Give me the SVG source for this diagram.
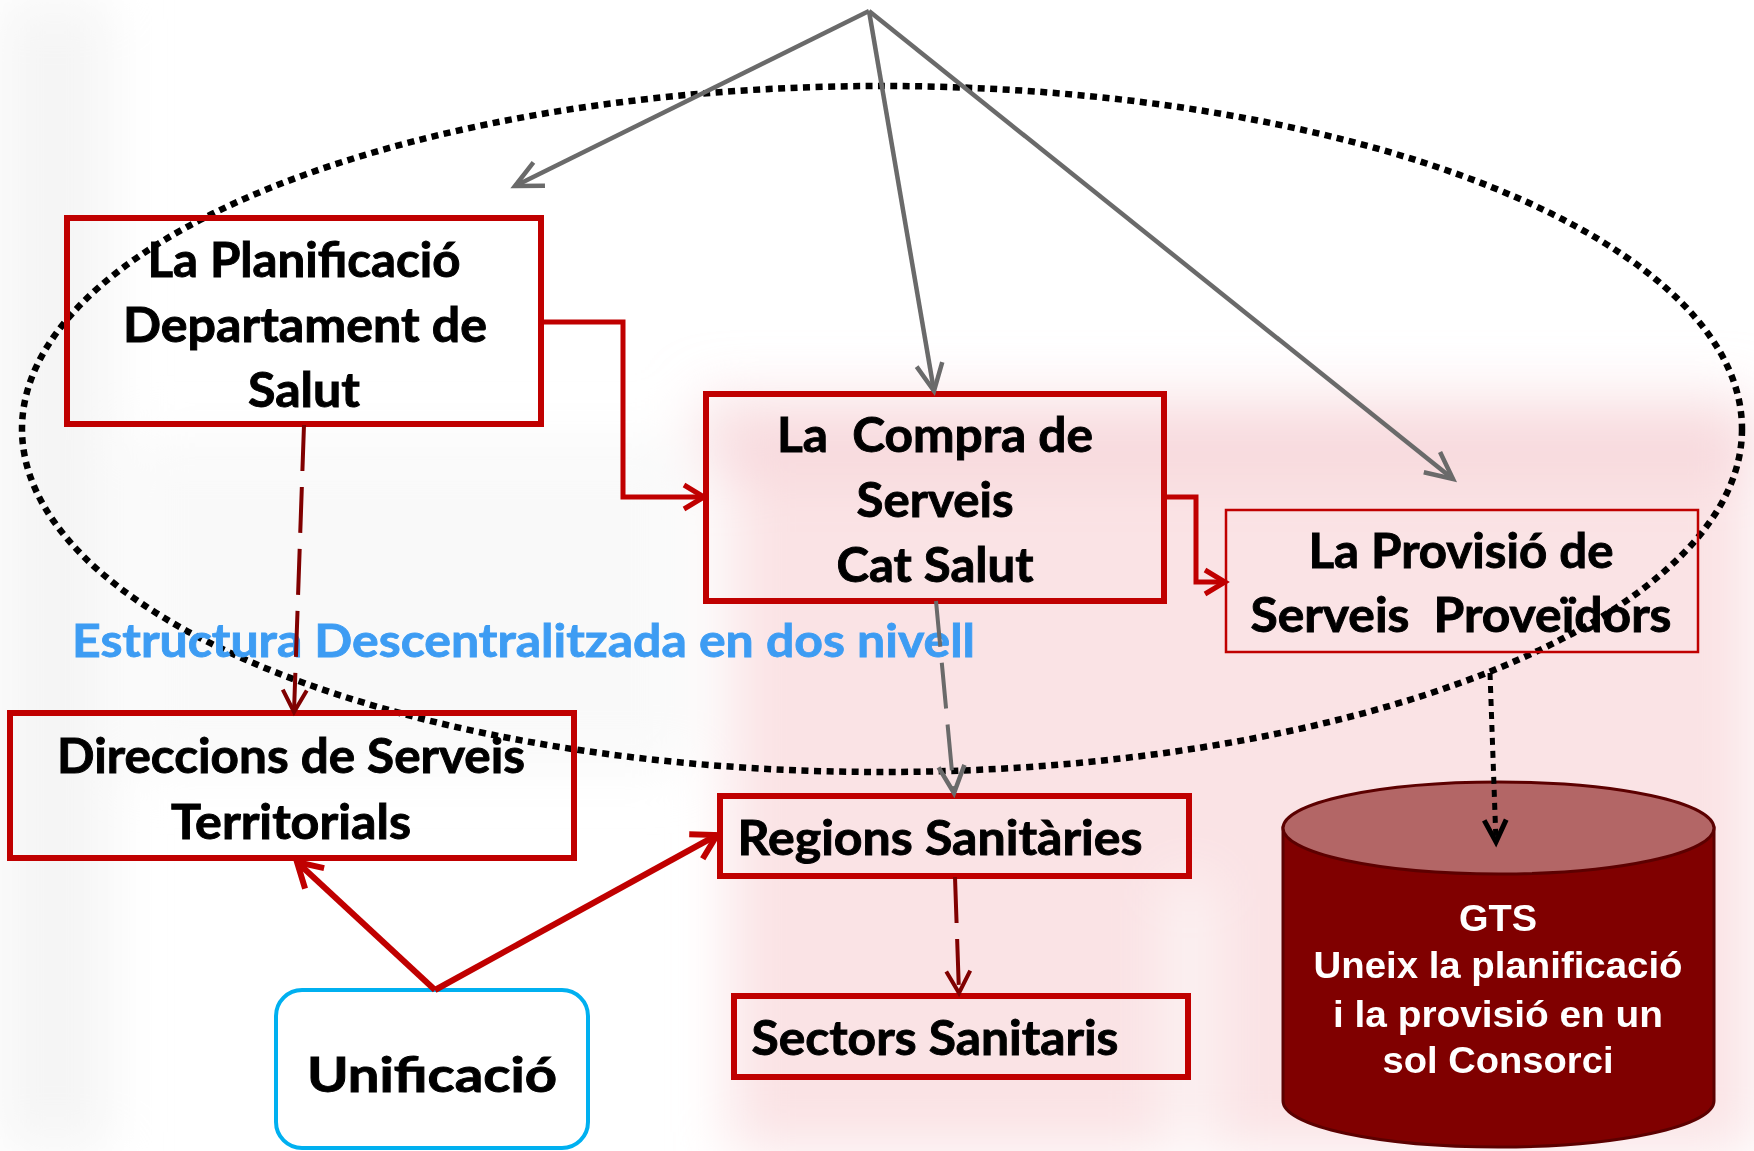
<svg xmlns="http://www.w3.org/2000/svg" width="1754" height="1151" viewBox="0 0 1754 1151">
  <style>
    .box { fill: none; stroke: #c00000; stroke-width: 6; }
    .boxthin { fill: none; stroke: #c00000; stroke-width: 2.5; }
    .lbl { font-family: Lato, "Open Sans", "Liberation Sans", sans-serif; font-weight: bold; font-size: 47px; fill: #000; stroke: #000; stroke-width: 0.9; text-anchor: middle; white-space: pre; }
    .blue { font-family: Lato, "Open Sans", "Liberation Sans", sans-serif; font-weight: bold; font-size: 45px; fill: #3d9cf3; stroke: #3d9cf3; stroke-width: 0.8; }
    .gts { font-family: "Liberation Sans Narrow", "Liberation Sans", Arial, sans-serif; font-weight: bold; font-size: 37px; fill: #fff; text-anchor: middle; }
    .gray { fill: none; stroke: #6a6a6a; stroke-width: 4.5; }
    .red { fill: none; stroke: #c00000; stroke-width: 5; }
    .redthick { fill: none; stroke: #c00000; stroke-width: 6; }
    .dred { fill: none; stroke: #800000; stroke-width: 4; stroke-dasharray: 46 16; }
    .dgray { fill: none; stroke: #6a6a6a; stroke-width: 4; stroke-dasharray: 46 16; }
    .dot { fill: none; stroke: #000; stroke-width: 6.5; stroke-dasharray: 7 5.5; }
  </style>
  <defs>
    <filter id="blur" x="-20%" y="-20%" width="140%" height="140%">
      <feGaussianBlur stdDeviation="28"/>
    </filter>
    <marker id="ahGray" markerUnits="userSpaceOnUse" viewBox="0 0 36 36" refX="33" refY="18" markerWidth="36" markerHeight="36" orient="auto" overflow="visible">
      <path d="M6,5 L33,18 L6,31" fill="none" stroke="#6a6a6a" stroke-width="4.5"/>
    </marker>
    <marker id="ahRed" markerUnits="userSpaceOnUse" viewBox="0 0 30 30" refX="26" refY="15" markerWidth="30" markerHeight="30" orient="auto" overflow="visible">
      <path d="M6,3 L26,15 L6,27" fill="none" stroke="#c00000" stroke-width="5"/>
    </marker>
    <marker id="ahRedBig" markerUnits="userSpaceOnUse" viewBox="0 0 36 36" refX="32" refY="18" markerWidth="36" markerHeight="36" orient="auto" overflow="visible">
      <path d="M8,4 L32,18 L8,32" fill="none" stroke="#c00000" stroke-width="6"/>
    </marker>
    <marker id="ahDred" markerUnits="userSpaceOnUse" viewBox="0 0 30 30" refX="26" refY="15" markerWidth="30" markerHeight="30" orient="auto" overflow="visible">
      <path d="M4,3 L26,15 L4,27" fill="none" stroke="#800000" stroke-width="4"/>
    </marker>
    <marker id="ahBlack" markerUnits="userSpaceOnUse" viewBox="0 0 30 30" refX="26" refY="15" markerWidth="30" markerHeight="30" orient="auto" overflow="visible">
      <path d="M4,4 L26,15 L4,26" fill="none" stroke="#000" stroke-width="5"/>
    </marker>
  </defs>

  <rect x="0" y="0" width="1754" height="1151" fill="#ffffff"/>
  <g id="background" filter="url(#blur)">
    <rect x="730" y="430" width="1024" height="721" fill="#f8d9dc" opacity="0.75"/>
    <rect x="700" y="395" width="1054" height="80" fill="#f5cfd3" opacity="0.6"/>
    <rect x="1170" y="880" width="40" height="271" fill="#ffffff" opacity="0.7"/>
    <rect x="0" y="0" width="110" height="1151" fill="#ececec" opacity="0.55"/>
    <rect x="130" y="440" width="560" height="330" fill="#f5f5f5" opacity="0.6"/>
  </g>

  <ellipse id="boundary" cx="882" cy="429" rx="860" ry="343" class="dot"/>

  <text id="estructura" x="72" y="657" class="blue" textLength="903" lengthAdjust="spacingAndGlyphs">Estructura Descentralitzada en dos nivell</text>

  <g id="planificacio">
    <rect x="67" y="218" width="474" height="206" class="box"/>
    <text class="lbl" x="304" y="277" textLength="313" lengthAdjust="spacingAndGlyphs">La Planificació</text>
    <text class="lbl" x="305" y="342" textLength="364" lengthAdjust="spacingAndGlyphs">Departament de</text>
    <text class="lbl" x="304" y="407" textLength="112" lengthAdjust="spacingAndGlyphs">Salut</text>
  </g>

  <g id="compra">
    <rect x="706" y="394" width="458" height="207" class="box"/>
    <text class="lbl" x="935" y="452" textLength="316" lengthAdjust="spacingAndGlyphs">La  Compra de</text>
    <text class="lbl" x="935" y="517" textLength="157" lengthAdjust="spacingAndGlyphs">Serveis</text>
    <text class="lbl" x="935" y="582" textLength="197" lengthAdjust="spacingAndGlyphs">Cat Salut</text>
  </g>

  <g id="provisio">
    <rect x="1226" y="510" width="472" height="142" class="boxthin"/>
    <text class="lbl" x="1461" y="568" textLength="305" lengthAdjust="spacingAndGlyphs">La Provisió de</text>
    <text class="lbl" x="1461" y="632" textLength="421" lengthAdjust="spacingAndGlyphs">Serveis  Proveïdors</text>
  </g>

  <g id="direccions">
    <rect x="10" y="713" width="564" height="145" class="box"/>
    <text class="lbl" x="291" y="773" textLength="468" lengthAdjust="spacingAndGlyphs">Direccions de Serveis</text>
    <text class="lbl" x="291" y="839" textLength="240" lengthAdjust="spacingAndGlyphs">Territorials</text>
  </g>

  <g id="regions">
    <rect x="720" y="796" width="469" height="80" class="box"/>
    <text class="lbl" x="940" y="855" textLength="405" lengthAdjust="spacingAndGlyphs">Regions Sanitàries</text>
  </g>

  <g id="sectors">
    <rect x="734" y="996" width="454" height="81" class="box"/>
    <text class="lbl" x="935" y="1055" textLength="367" lengthAdjust="spacingAndGlyphs">Sectors Sanitaris</text>
  </g>

  <g id="unificacio">
    <rect x="276" y="990" width="312" height="158" rx="26" ry="26" fill="#ffffff" stroke="#00b0f0" stroke-width="4"/>
    <text class="lbl" x="432" y="1092" font-size="54" textLength="250" lengthAdjust="spacingAndGlyphs">Unificació</text>
  </g>

  <g id="gts">
    <path d="M1283,828 L1283,1101 A215.5,46 0 0 0 1714,1101 L1714,828 Z" fill="#800000" stroke="#5c0000" stroke-width="3"/>
    <ellipse cx="1498.5" cy="828" rx="215.5" ry="46" fill="#b36666" stroke="#5c0000" stroke-width="3"/>
    <text class="gts" x="1498" y="931" textLength="78" lengthAdjust="spacingAndGlyphs">GTS</text>
    <text class="gts" x="1498" y="978" textLength="369" lengthAdjust="spacingAndGlyphs">Uneix la planificació</text>
    <text class="gts" x="1498" y="1027" textLength="330" lengthAdjust="spacingAndGlyphs">i la provisió en un</text>
    <text class="gts" x="1498" y="1073" textLength="231" lengthAdjust="spacingAndGlyphs">sol Consorci</text>
  </g>

  <g id="connectors">
    <line x1="869" y1="11" x2="515" y2="186" class="gray" marker-end="url(#ahGray)"/>
    <line x1="869" y1="11" x2="934" y2="391" class="gray" marker-end="url(#ahGray)"/>
    <line x1="869" y1="11" x2="1453" y2="479" class="gray" marker-end="url(#ahGray)"/>
    <polyline points="541,322 623,322 623,497 704,497" class="red" marker-end="url(#ahRed)"/>
    <polyline points="1164,497 1196,497 1196,582 1225,582" class="red" marker-end="url(#ahRed)"/>
    <line x1="304" y1="425" x2="294" y2="712" class="dred" marker-end="url(#ahDred)"/>
    <line x1="936" y1="601" x2="954" y2="793" class="dgray" marker-end="url(#ahGray)"/>
    <line x1="955" y1="877" x2="959" y2="993" class="dred" marker-end="url(#ahDred)"/>
    <line x1="1490" y1="673" x2="1496" y2="842" fill="none" stroke="#000" stroke-width="5" stroke-dasharray="7 6" marker-end="url(#ahBlack)"/>
    <line x1="435" y1="990" x2="297" y2="862" class="redthick" marker-end="url(#ahRedBig)"/>
    <line x1="435" y1="990" x2="717" y2="835" class="redthick" marker-end="url(#ahRedBig)"/>
  </g>
</svg>
